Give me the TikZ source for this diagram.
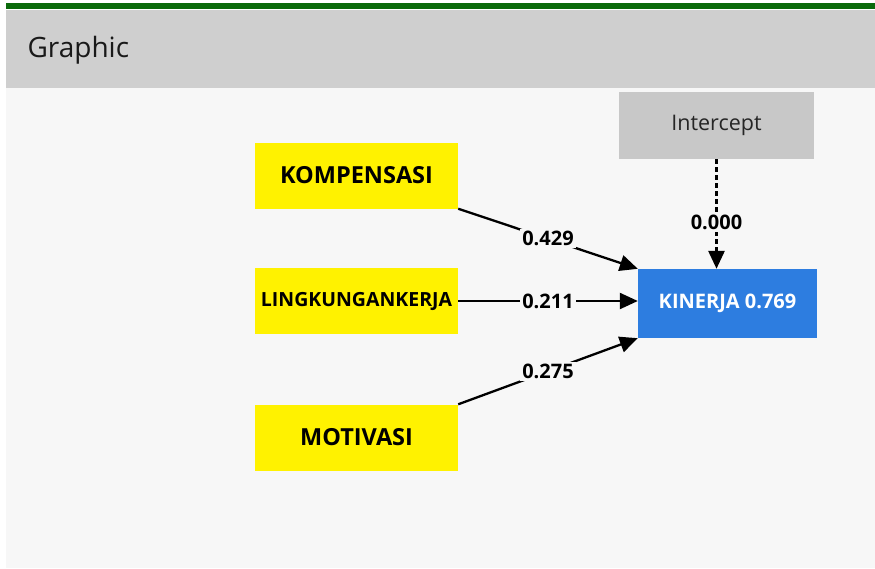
\documentclass[tikz,border=0pt]{standalone}
\usepackage{fontspec}
\setmainfont{Open Sans}
\usetikzlibrary{arrows.meta}
\definecolor{pagebg}{HTML}{F7F7F7}
\definecolor{headbg}{HTML}{CFCFCF}
\definecolor{topbar}{HTML}{0B6A0B}
\definecolor{latentyellow}{HTML}{FFF200}
\definecolor{targetblue}{HTML}{2D7DE0}
\definecolor{constgray}{HTML}{C8C8C8}
\tikzset{
  ybox/.style={fill=latentyellow, minimum width=203pt, minimum height=66pt, inner sep=0pt,
    font=\fontsize{23.5}{28}\selectfont\bfseries, text=black},
  bbox/.style={fill=targetblue, minimum width=179pt, minimum height=69pt, inner sep=0pt,
    font=\fontsize{20}{24}\selectfont\bfseries, text=white},
  gbox/.style={fill=constgray, minimum width=195pt, minimum height=67pt, inner sep=0pt,
    font=\fontsize{21.5}{26}\selectfont, text=black!85},
  pathlab/.style={fill=pagebg, inner sep=2pt, font=\fontsize{20}{24}\selectfont\bfseries},
  arr/.style={line width=2.3pt, -{Triangle[length=18pt,width=16pt]}},
}
\begin{document}
\begin{tikzpicture}[x=1pt,y=-1pt]
\useasboundingbox (0,0) rectangle (875,568);
% page background, green bar and header band
\fill[white] (0,0) rectangle (875,568);
\fill[pagebg] (6,10) rectangle (875,568);
\fill[topbar] (6,3) rectangle (875,9);
\fill[headbg] (6,10) rectangle (875,88);
\node[anchor=west, font=\fontsize{28}{32}\selectfont, text=black!90] (title) at (24,50) {Graphic};

% constructs
\node[ybox] (komp) at (356.5,175.5) {KOMPENSASI};
\node[ybox, font=\fontsize{19.5}{24}\selectfont\bfseries] (ling) at (356.5,301) {LINGKUNGANKERJA};
\node[ybox] (moti) at (356.5,437.5) {MOTIVASI};
\node[gbox] (icpt) at (716.5,125.5) {Intercept};
\node[bbox] (kin) at (727.5,303.5) {KINERJA 0.769};

% path coefficients
\draw[arr] (komp.south east) -- node[pathlab] {0.429} (kin.north west);
\draw[arr] (ling.east) -- node[pathlab] {0.211} (kin.west |- ling.east);
\draw[arr] (moti.north east) -- node[pathlab] {0.275} (kin.south west);
\draw[arr, line width=2.8pt, dash pattern=on 5pt off 3pt] (icpt.south) -- node[pos=0.58, pathlab] {0.000} (kin.north -| icpt.south);
\end{tikzpicture}
\end{document}
